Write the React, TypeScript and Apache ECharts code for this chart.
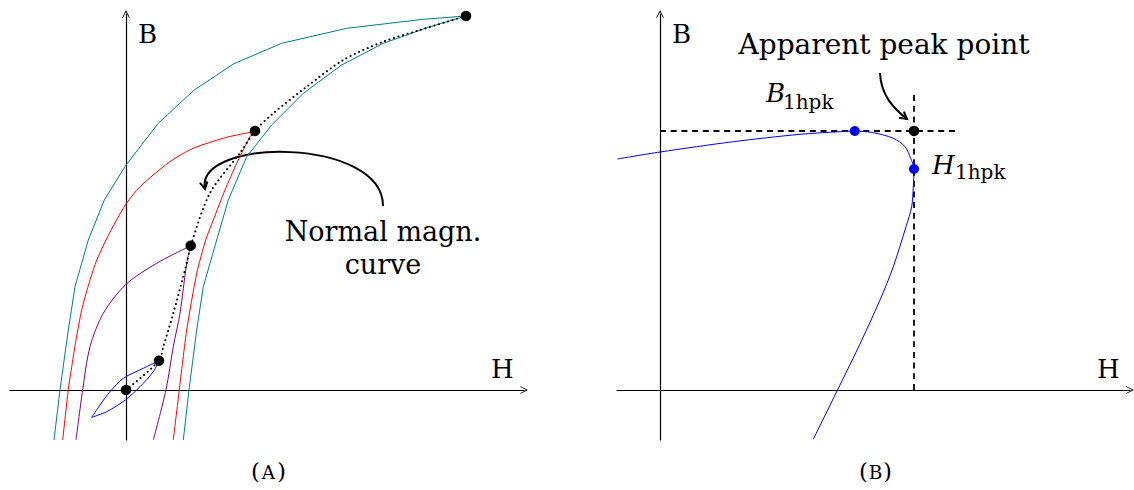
import React, { useEffect, useRef } from "react";
import * as echarts from "echarts";

const FONT = "'DejaVu Serif', serif";

// ---------- Panel (A): hysteresis loops, values as [H, B] ----------
const tealUp = [[5.73, -5.0], [6.3, 0.03], [7.07, 6.0], [7.73, 10.33], [9.07, 15.0], [10.23, 19.0], [12.07, 23.33], [14.57, 26.5], [17.73, 29.67], [21.57, 32.5], [25.73, 34.67], [30.4, 36.33], [34.0, 37.4]];
const tealDown = [[34.0, 37.4], [29.73, 37.07], [22.07, 36.17], [15.57, 34.67], [10.73, 32.6], [6.73, 29.93], [3.23, 26.67], [0.0, 22.5], [-2.17, 19.0], [-3.77, 15.0], [-5.1, 10.33], [-5.77, 6.0], [-6.6, 0.03], [-7.2, -5.0]];
const redUp = [[4.73, -5.0], [5.33, 0.03], [6.07, 6.0], [7.07, 11.67], [7.97, 15.0], [8.73, 17.0], [9.9, 20.0], [11.07, 22.67], [12.4, 25.33], [12.9, 25.9]];
const redDown = [[12.9, 25.9], [12.4, 25.77], [10.07, 25.27], [6.73, 24.17], [4.4, 22.83], [1.4, 20.33], [0.0, 18.6], [-1.0, 16.9], [-2.0, 15.0], [-3.0, 12.8], [-3.75, 10.5], [-4.43, 8.0], [-5.0, 5.0], [-5.4, 2.5], [-5.77, 0.03], [-6.33, -5.0]];
const purpleUp = [[2.73, -5.0], [4.0, 0.03], [4.73, 4.33], [5.4, 7.67], [6.07, 12.67], [6.47, 14.43]];
const purpleDown = [[6.47, 14.43], [3.07, 12.67], [0.0, 10.57], [-2.27, 7.67], [-3.6, 4.33], [-4.33, 0.03], [-5.0, -5.0]];
const blueDown = [[3.3, 2.93], [1.73, 2.17], [-0.27, 1.17], [-1.6, -0.17], [-2.6, -1.5], [-3.43, -2.73]];
const blueUp = [[-3.43, -2.73], [-1.93, -2.17], [-0.07, -1.0], [1.4, 0.33], [2.73, 1.83], [3.3, 2.93]];
const normalCurve = [[0, 0], [3.3, 2.93], [3.73, 4.33], [4.73, 7.67], [6.07, 12.67], [6.47, 14.43], [8.4, 19.7], [11.4, 23.7], [12.9, 25.9], [14.73, 27.67], [18.07, 30.33], [21.73, 33.0], [25.73, 34.83], [29.4, 36.0], [34.0, 37.4]];
const tipPoints = [[0, 0], [3.3, 2.93], [6.47, 14.43], [12.9, 25.9], [34.0, 37.4]];

// ---------- Panel (B): first-harmonic loop ----------
const loopB = [[-4.27, 23.1], [0.0, 23.8], [7.33, 24.83], [14.0, 25.57], [18.0, 25.83], [19.47, 25.9], [21.33, 25.73], [23.33, 25.17], [24.5, 24.33], [25.07, 23.17], [25.4, 22.1], [25.33, 20.33], [25.17, 18.33], [24.6, 16.33], [23.33, 12.33], [22.0, 9.0], [19.9, 4.4], [17.75, 0.0], [15.33, -4.93]];
const peakPoint = [[25.4, 25.9]];
const hpkPoints = [[19.47, 25.9], [25.4, 22.1]];
const dashHoriz = [[0, 25.9], [29.6, 25.9]];
const dashVert = [[25.4, 0], [25.4, 29.6]];

const axisArrow = "path://M0,10 L5,0 L10,10 L9.2,10.6 L5,2.6 L0.8,10.6 Z";

function arrowHead(tip: number[], from: number[], len = 8, ang = 0.5) {
  const dx = from[0] - tip[0];
  const dy = from[1] - tip[1];
  const d = Math.hypot(dx, dy);
  const ux = dx / d, uy = dy / d;
  const rot = (a: number) => [tip[0] + len * (ux * Math.cos(a) - uy * Math.sin(a)), tip[1] + len * (ux * Math.sin(a) + uy * Math.cos(a))];
  return [rot(ang), tip, rot(-ang)];
}

function txt(text: string, x: number, y: number, fontSize: number, extra: any = {}) {
  return {
    type: "text",
    x,
    y,
    silent: true,
    style: { text, fontSize, fontFamily: FONT, fill: "#000", align: "left", verticalAlign: "middle", ...extra },
  };
}

function caption(letter: string, left: number, right: number) {
  const mid = (left + right) / 2;
  return [
    txt("(", left, 470.5, 23),
    txt(letter, mid, 472, 18.5, { align: "center" }),
    txt(")", right, 470.5, 23, { align: "right" }),
  ];
}

export default function App() {
  const ref = useRef<HTMLDivElement>(null);
  useEffect(() => {
    if (!ref.current) return;
    const chart = echarts.init(ref.current, undefined, { renderer: "svg" });

    const axisCommon = (min: number, max: number) => ({
      type: "value",
      min,
      max,
      axisLine: {
        show: true,
        onZero: true,
        symbol: ["none", axisArrow],
        symbolSize: [8, 8],
        lineStyle: { color: "#000", width: 1.2 },
      },
      axisTick: { show: false },
      axisLabel: { show: false },
      splitLine: { show: false },
    });

    const line = (data: number[][], color: string, gi: number, smooth: number | boolean, width = 1) => ({
      type: "line",
      data,
      xAxisIndex: gi,
      yAxisIndex: gi,
      symbol: "none",
      smooth,
      clip: false,
      lineStyle: { color, width },
      silent: true,
    });

    const dots = (data: number[][], color: string, gi: number, size: number) => ({
      type: "scatter",
      data,
      xAxisIndex: gi,
      yAxisIndex: gi,
      symbol: "circle",
      symbolSize: size,
      itemStyle: { color, opacity: 1 },
      silent: true,
      z: 5,
    });

    const curveA = { x1: 383, y1: 206, cpx1: 383, cpy1: 137, cpx2: 195, cpy2: 137, x2: 205, y2: 189 };
    const curveB = { x1: 880, y1: 73, cpx1: 881, cpy1: 95, cpx2: 893, cpy2: 108, x2: 907, y2: 119 };

    chart.setOption({
      animation: false,
      textStyle: { fontFamily: FONT },
      grid: [
        { left: 10, top: 14, width: 514, height: 426 },
        { left: 617, top: 14, width: 513, height: 426 },
      ],
      xAxis: [{ ...axisCommon(-11.6, 39.8), gridIndex: 0 }, { ...axisCommon(-4.3, 47.0), gridIndex: 1 }],
      yAxis: [{ ...axisCommon(-5.0, 37.6), gridIndex: 0 }, { ...axisCommon(-5.0, 37.6), gridIndex: 1 }],
      series: [
        line(tealUp, "#008080", 0, false),
        line(tealDown, "#008080", 0, false),
        line(redUp, "#ff0000", 0, 0.2),
        line(redDown, "#ff0000", 0, 0.25),
        line(purpleUp, "#800080", 0, 0.3),
        line(purpleDown, "#800080", 0, 0.3),
        line(blueUp, "#0000ff", 0, 0.3),
        line(blueDown, "#0000ff", 0, 0.3),
        {
          ...line(normalCurve, "#000", 0, 0.3, 2),
          lineStyle: { color: "#000", width: 2, type: [0.1, 4.6], cap: "round" },
        },
        dots(tipPoints, "#000", 0, 10.5),
        // Panel B
        { ...line(dashHoriz, "#000", 1, false, 1.8), lineStyle: { color: "#000", width: 1.8, type: [6, 4.7] } },
        { ...line(dashVert, "#000", 1, false, 1.8), lineStyle: { color: "#000", width: 1.8, type: [6, 4.7] } },
        line(loopB, "#0000ff", 1, 0.3),
        dots(hpkPoints, "#0000ff", 1, 10),
        dots(peakPoint, "#000", 1, 10.5),
      ],
      graphic: [
        // Panel A labels
        txt("B", 138, 33.5, 26),
        txt("H", 491, 368.5, 26),
        txt("Normal magn.", 383, 231, 27, { align: "center" }),
        txt("curve", 383, 264, 27, { align: "center" }),
        {
          type: "bezierCurve",
          shape: curveA,
          silent: true,
          style: { stroke: "#000", lineWidth: 2, fill: null },
        },
        {
          type: "polyline",
          shape: { points: arrowHead([curveA.x2, curveA.y2], [curveA.cpx2, curveA.cpy2]) },
          silent: true,
          style: { stroke: "#000", lineWidth: 2, fill: null },
        },
        ...caption("A", 251, 286),
        // Panel B labels
        txt("B", 672, 33.5, 26),
        txt("H", 1097, 368.5, 26),
        txt("Apparent peak point", 884, 44, 28, { align: "center" }),
        txt("B", 766, 93, 26, { fontStyle: "italic" }),
        txt("1hpk", 783, 102, 20),
        txt("H", 932, 164.5, 26, { fontStyle: "italic" }),
        txt("1hpk", 955, 172, 20),
        {
          type: "bezierCurve",
          shape: curveB,
          silent: true,
          style: { stroke: "#000", lineWidth: 2, fill: null },
        },
        {
          type: "polyline",
          shape: { points: arrowHead([curveB.x2, curveB.y2], [curveB.cpx2, curveB.cpy2]) },
          silent: true,
          style: { stroke: "#000", lineWidth: 2, fill: null },
        },
        ...caption("B", 859, 892),
      ],
    });
    return () => chart.dispose();
  }, []);

  return (
    <div
      ref={ref}
      style={{ position: "fixed", left: 0, top: 0, width: 1134, height: 490, background: "#fff" }}
    />
  );
}
